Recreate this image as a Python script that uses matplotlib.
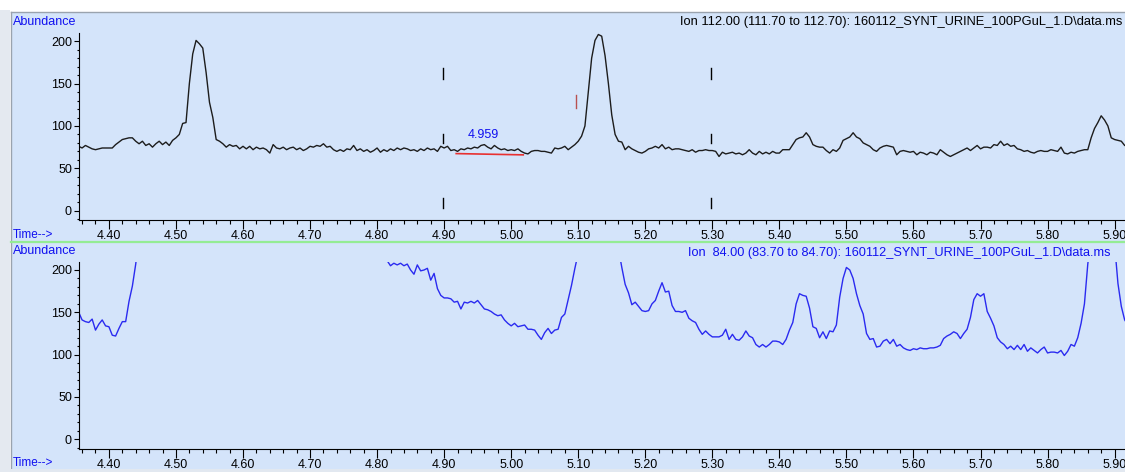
import numpy as np
import matplotlib.pyplot as plt
from matplotlib.patches import Rectangle
from matplotlib.lines import Line2D
from matplotlib.ticker import MultipleLocator, FormatStrFormatter

W, H = 1125, 472
scan_step = 0.005

# ion 112 extracted trace, one value per scan from 4.355 min
ion112_start = 4.355
ion112 = [
    76, 74, 77, 75, 73, 72, 73, 74, 74,
    74, 74, 78, 81, 84, 85, 86, 86, 82, 79,          # 4.40
    82, 77, 79, 75, 79, 82, 78, 81, 77, 83,          # 4.45
    86, 90, 103, 104, 150, 185, 201, 197, 192, 163,  # 4.50
    128, 110, 84, 82, 79, 75, 78, 76, 77, 73,        # 4.55
    76, 73, 76, 72, 75, 73, 74, 72, 68, 78,          # 4.60
    74, 73, 75, 72, 74, 75, 72, 74, 71, 73,          # 4.65
    76, 75, 77, 76, 79, 75, 76, 72, 70, 72,          # 4.70
    70, 73, 72, 77, 71, 73, 70, 72, 69, 71,          # 4.75
    74, 69, 72, 70, 73, 71, 74, 72, 74, 73,          # 4.80
    71, 72, 70, 73, 71, 74, 72, 73, 70, 76,          # 4.85
    74, 76, 71, 72, 70, 73, 72, 74, 73, 75,          # 4.90
    74, 77, 78, 75, 73, 77, 74, 72, 73, 71,          # 4.95
    72, 71, 73, 70, 68, 67, 70, 71, 71, 70,          # 5.00
    70, 69, 68, 74, 73, 74, 76, 72, 75, 78,          # 5.05
    82, 88, 100, 140, 180, 201, 208, 206, 183, 150,  # 5.10
    113, 90, 82, 81, 72, 76, 73, 71, 69, 68,         # 5.15
    70, 73, 74, 76, 74, 78, 73, 75, 72, 73,          # 5.20
    73, 72, 71, 70, 72, 69, 71, 71, 72, 71,          # 5.25
    71, 70, 64, 69, 67, 68, 69, 67, 68, 66,          # 5.30
    68, 72, 68, 66, 70, 67, 69, 67, 70, 68,          # 5.35
    68, 72, 72, 72, 78, 84, 86, 87, 92, 87,          # 5.40
    78, 76, 75, 75, 71, 68, 72, 70, 74, 83,          # 5.45
    85, 87, 92, 87, 85, 80, 78, 76, 72, 70,          # 5.50
    74, 76, 77, 76, 75, 66, 70, 71, 70, 69,          # 5.55
    70, 66, 69, 68, 66, 69, 68, 66, 72, 69,          # 5.60
    66, 64, 66, 68, 70, 72, 74, 71, 74, 77,          # 5.65
    73, 75, 75, 74, 78, 77, 82, 77, 79, 76,          # 5.70
    77, 73, 72, 70, 71, 69, 68, 70, 71, 70,          # 5.75
    70, 72, 71, 70, 75, 68, 67, 69, 68, 70,          # 5.80
    71, 72, 72, 86, 97, 104, 112, 107, 100, 86,      # 5.85
    84, 83, 82, 77, 76,                              # 5.90
]

# ion 84 trace, stretches above the scale are left out
ion84_starts = [4.355, 4.805, 5.16, 5.90]
ion84_a = [
    150, 141, 139, 138, 142, 129, 136, 141, 134,
    133, 123, 122, 131, 139, 139, 163, 181, 207, 240,
]
ion84_b = [
    240, 225, 211, 205, 208, 206, 208, 205, 207,
    200, 195, 206, 199, 200, 202, 188, 196, 178, 170,   # 4.85
    167, 167, 166, 162, 163, 154, 162, 161, 163, 161,   # 4.90
    164, 159, 154, 153, 151, 148, 146, 147, 141, 137,   # 4.95
    134, 137, 133, 134, 135, 130, 130, 129, 123, 118,   # 5.00
    126, 131, 125, 129, 130, 144, 148, 165, 182, 202,   # 5.05
    220,
]
ion84_c = [
    225, 203, 183, 173, 159, 162, 157, 152,
    151, 152, 160, 164, 175, 185, 174, 175, 158, 151,   # 5.20
    151, 150, 152, 143, 140, 138, 130, 124, 128, 124,   # 5.25
    121, 121, 121, 123, 130, 118, 124, 118, 117, 121,   # 5.30
    128, 122, 120, 112, 109, 112, 109, 112, 116, 116,   # 5.35
    115, 112, 118, 129, 138, 160, 172, 170, 169, 155,   # 5.40
    133, 131, 120, 127, 119, 128, 127, 135, 168, 190,   # 5.45
    203, 200, 190, 172, 158, 148, 125, 118, 119, 109,   # 5.50
    110, 116, 118, 113, 118, 110, 112, 108, 106, 105,   # 5.55
    107, 106, 108, 107, 107, 108, 108, 109, 111, 119,   # 5.60
    122, 124, 127, 125, 119, 125, 130, 144, 165, 172,   # 5.65
    169, 172, 151, 143, 134, 120, 115, 112, 107, 110,   # 5.70
    106, 111, 106, 112, 104, 108, 105, 102, 106, 109,   # 5.75
    102, 103, 103, 102, 105, 99, 104, 112, 110, 120,    # 5.80
    137, 160, 207, 240,
]
ion84_d = [230, 184, 157, 141, 135]
ion84_segments = [ion84_a, ion84_b, ion84_c, ion84_d]

# integration window and peak markers on the ion 112 panel
window_marks = [4.898, 5.298]
mark_levels = [(156, 168), (80, 91), (3, 15)]
expected_rt = 5.0965
expected_level = (121, 136)
peak_rt = 4.959
peak_start, peak_end = 4.918, 5.018
peak_base = (67.4, 65.9)

ion112_title = 'Ion 112.00 (111.70 to 112.70): 160112_SYNT_URINE_100PGuL_1.D\\data.ms'
ion84_title = 'Ion  84.00 (83.70 to 84.70): 160112_SYNT_URINE_100PGuL_1.D\\data.ms'

BLUE = '#1010f0'
PANEL = '#d4e4fa'

plt.rcParams['font.family'] = ['Liberation Sans', 'DejaVu Sans']


def fx(x):
    return x / W


def fy(y):
    return 1 - y / H


fig = plt.figure(figsize=(W / 100, H / 100), dpi=100, facecolor='white')

# window frame
fig.add_artist(Rectangle((0, 0), fx(10), fy(10), transform=fig.transFigure,
                         facecolor='#e4e9f0', edgecolor='none', zorder=-3))
fig.add_artist(Rectangle((fx(11), fy(469)), 1 - fx(11), (469 - 12) / H,
                         transform=fig.transFigure, facecolor=PANEL,
                         edgecolor='none', zorder=-2))
fig.add_artist(Line2D([fx(10.5), 1], [fy(12), fy(12)], transform=fig.transFigure,
                      color='#9aa3ae', lw=1.0, zorder=-1))
fig.add_artist(Line2D([fx(10.5), fx(10.5)], [fy(12), fy(469)], transform=fig.transFigure,
                      color='#9aa3ae', lw=1.0, zorder=-1))
fig.add_artist(Rectangle((fx(10), 0), 1 - fx(10), 3 / H, transform=fig.transFigure,
                         facecolor='#e2e8f0', edgecolor='none', zorder=5))
fig.add_artist(Line2D([fx(11), 1], [fy(242.3), fy(242.3)], transform=fig.transFigure,
                      color='#94ec94', lw=1.6, zorder=2))


def style(ax, ylim):
    ax.set_facecolor('none')
    ax.set_xlim(4.3554, 5.9155)
    ax.set_ylim(*ylim)
    for s in ('top', 'right'):
        ax.spines[s].set_visible(False)
    for s in ('left', 'bottom'):
        ax.spines[s].set_linewidth(0.8)
        ax.spines[s].set_color('black')
    ax.xaxis.set_major_locator(MultipleLocator(0.1))
    ax.xaxis.set_minor_locator(MultipleLocator(0.02))
    ax.xaxis.set_major_formatter(FormatStrFormatter('%.2f'))
    ax.yaxis.set_major_locator(MultipleLocator(50))
    ax.yaxis.set_minor_locator(MultipleLocator(10))
    ax.tick_params(axis='x', which='major', length=6.5, width=0.8, pad=0.5, labelsize=9)
    ax.tick_params(axis='x', which='minor', length=3, width=0.8)
    ax.tick_params(axis='y', which='major', length=3.6, width=0.8, pad=1.5, labelsize=9)
    ax.tick_params(axis='y', which='minor', length=1.8, width=0.8)


ax1 = fig.add_axes([fx(79), fy(220), 1 - fx(79), (220 - 33.3) / H])
style(ax1, (-11.0, 209.4))
t112 = ion112_start + scan_step * np.arange(len(ion112))
ax1.plot(t112, ion112, color='#1c1c1c', lw=1.0)

for t in window_marks:
    for lo, hi in mark_levels:
        ax1.plot([t, t], [lo, hi], color='black', lw=1.0)
ax1.plot([expected_rt, expected_rt], expected_level, color='#b85050', lw=1.0)
ax1.plot([peak_start, peak_end], peak_base, color='#e83030', lw=1.2)
ax1.text(peak_rt, 82.5, f'{peak_rt:.3f}', ha='center', va='bottom',
         color=BLUE, fontsize=9)

ax2 = fig.add_axes([fx(79), fy(449.3), 1 - fx(79), (449.3 - 261.7) / H])
style(ax2, (-11.8, 209.8))
for start, seg in zip(ion84_starts, ion84_segments):
    t84 = start + scan_step * np.arange(len(seg))
    ax2.plot(t84, seg, color='#2a2af0', lw=1.0)

fig.text(fx(13), fy(21.7), 'Abundance', color=BLUE, fontsize=9, ha='left', va='center')
fig.text(fx(1122), fy(22), ion112_title, color='black', fontsize=9.3, ha='right', va='center')
fig.text(fx(13), fy(235), 'Time-->', color=BLUE, fontsize=8.5, ha='left', va='center')
fig.text(fx(13), fy(251), 'Abundance', color=BLUE, fontsize=9, ha='left', va='center')
fig.text(fx(1110), fy(253), ion84_title, color=BLUE, fontsize=9.2, ha='right', va='center')
fig.text(fx(13), fy(463), 'Time-->', color=BLUE, fontsize=8.5, ha='left', va='center')

fig.savefig('out.png', dpi=100)
